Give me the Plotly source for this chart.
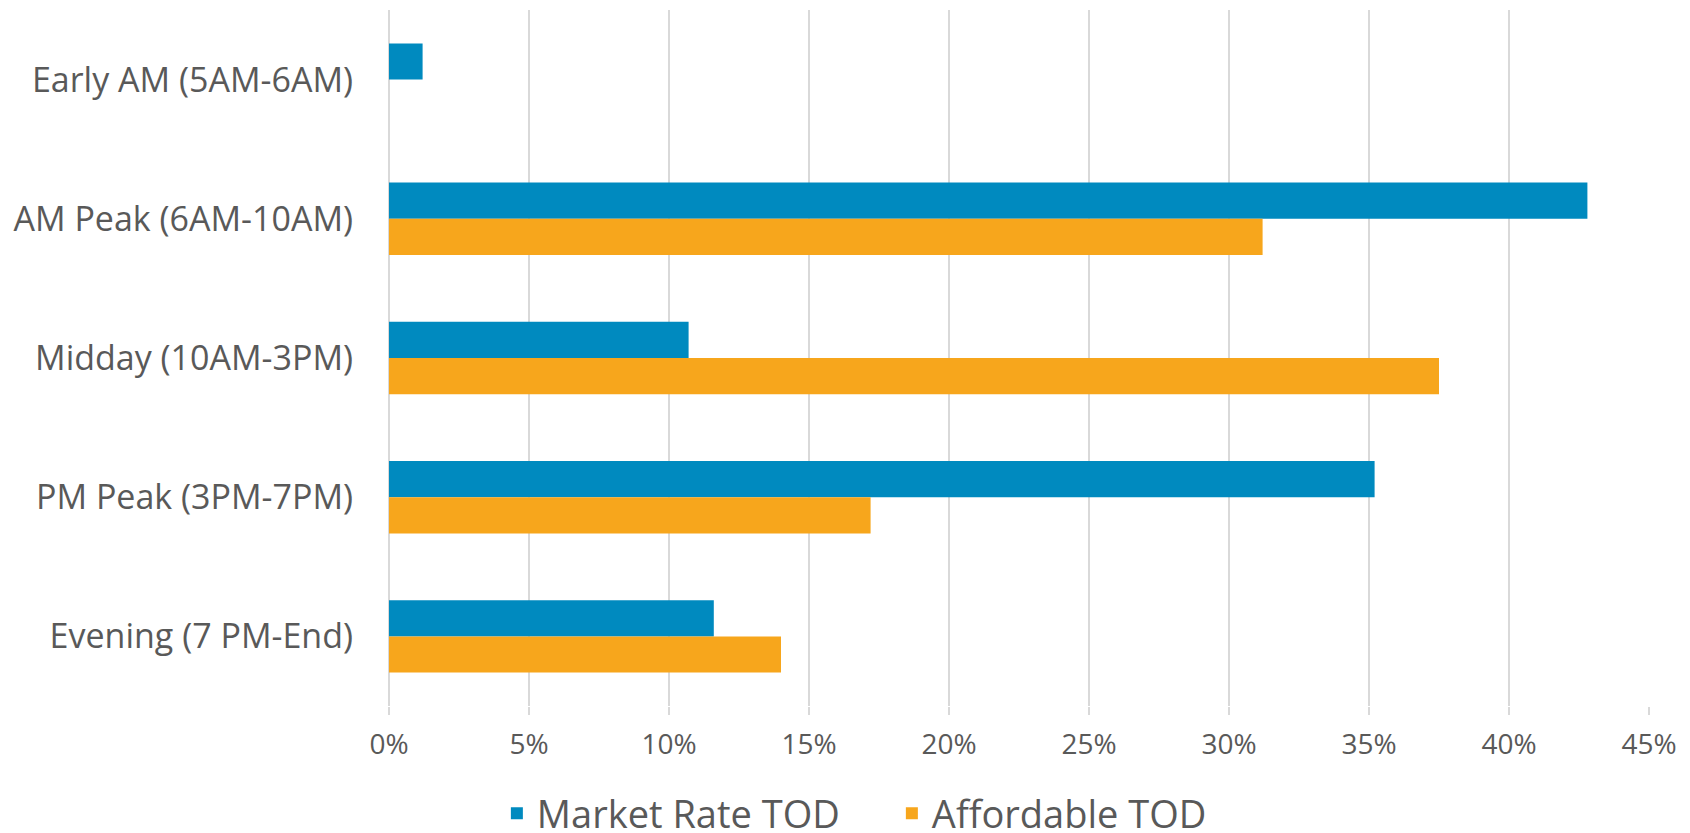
import plotly.graph_objects as go

categories = [
    "Early AM (5AM-6AM)",
    "AM Peak (6AM-10AM)",
    "Midday (10AM-3PM)",
    "PM Peak (3PM-7PM)",
    "Evening (7 PM-End)",
]
market_rate = [1.2, 42.8, 10.7, 35.2, 11.6]
affordable = [0.0, 31.2, 37.5, 17.2, 14.0]
x_ticks = [0, 5, 10, 15, 20, 25, 30, 35, 40, 45]

BLUE = "#008ABF"
ORANGE = "#F7A61C"
TEXT = "#595959"
GRID = "#D9D9D9"
FONT = "Open Sans"

fig = go.Figure()
fig.add_trace(go.Bar(y=categories, x=market_rate, orientation="h",
                     name="Market Rate TOD", marker=dict(color=BLUE, line=dict(width=0))))
fig.add_trace(go.Bar(y=categories, x=affordable, orientation="h",
                     name="Affordable TOD", marker=dict(color=ORANGE, line=dict(width=0))))

fig.update_layout(
    width=1690, height=833,
    paper_bgcolor="white", plot_bgcolor="white",
    margin=dict(l=381, r=49, t=2, b=135, autoexpand=False),
    barmode="group", bargap=0.48, bargroupgap=0,
    font=dict(family=FONT, color=TEXT, size=28),
    showlegend=True,
    legend=dict(orientation="h", xref="container", yref="container",
                x=0.523, xanchor="center", y=0.033, yanchor="middle",
                font=dict(size=38, color=TEXT), itemwidth=30,
                entrywidth=350, entrywidthmode="pixels",
                traceorder="normal"),
)
fig.update_xaxes(
    range=[0, 45], tickvals=x_ticks, ticktext=[f"{v}%" for v in x_ticks],
    showgrid=True, gridcolor=GRID, gridwidth=2,
    zeroline=True, zerolinecolor=GRID, zerolinewidth=2,
    showline=False, ticks="outside", ticklen=8, tickcolor=GRID, tickwidth=2,
    tickfont=dict(size=28, color=TEXT), ticklabelstandoff=5, automargin=False,
)
fig.update_yaxes(
    autorange="reversed", showgrid=False, zeroline=False, showline=False,
    ticks="", tickfont=dict(size=34, color=TEXT), ticklabelstandoff=35,
    automargin=False,
)

fig.write_html("out.html")
